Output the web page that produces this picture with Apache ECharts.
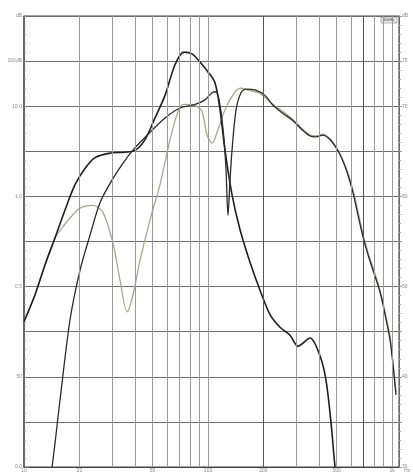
<!DOCTYPE html>
<html><head><meta charset="utf-8">
<script src="https://cdn.jsdelivr.net/npm/echarts@6/dist/echarts.min.js"></script>
<style>html,body{margin:0;padding:0;background:#fff}#c{width:413px;height:473px}</style>
</head><body><div id="c"></div>
<script>
// Curve A (dark, woofer-like)
const aFreq = [10,11.48,13.0,14.74,16.71,18.93,21.45,24.32,29.34,35.4,40.12,45.46,51.52,58.39,66.17,74.06,81.85,90.46,100,109.1,116.2,123.7,135.0,149.3,169.1,191.7,217.3,246.2,279.1,308.4,358.4,406.2,437.8,466.1,489.9,502];
const aDb   = [56.1,59.1,62.4,65.4,68.5,71.3,73.1,74.3,74.8,74.9,75.1,76.3,78.7,81.2,84.6,86.0,85.8,84.9,83.8,82.6,79.6,75.1,70.2,66.3,62.7,59.6,56.9,55.5,54.6,53.4,54.3,52.3,49.6,44.9,40.0,38.6];
// Curve B (dark, with notch)
const bFreq = [13.85,14.2,15.69,17.78,20.15,22.84,25.88,30.08,34.52,40.12,48.4,58.39,70.43,84.99,96.32,105.1,110.5,116.2,122.2,125.3,128.4,131.7,135.0,142.0,151.1,160.9,180.1,204.1,225.6,255.6,289.7,324.3,358.4,386.4,421.7,460.3,496.1,528.2,569.3,613.8,653.5,695.8,740.7,788.5,860.6,916.2,975.2,1012.5,1051];
const bDb   = [39.4,40.0,47.4,56.3,61.8,65.7,69.3,71.8,73.7,75.4,77.1,78.7,79.8,80.2,80.7,81.5,81.6,80.1,76.3,72.9,67.9,71.8,75.1,79.6,81.5,81.9,81.8,81.2,80.1,79.2,78.4,77.4,76.7,76.6,76.8,76.3,75.4,74.4,72.7,70.4,67.9,65.5,63.5,61.8,59.4,56.9,54.1,51.3,48.0];
// Curve C (grey)
const cFreq = [10,11.48,13.0,14.74,16.09,17.78,20.15,23.71,26.88,30.46,33.25,36.3,39.13,42.7,48.4,54.84,62.15,68.7,73.13,84.99,92.78,98.76,105.1,113.3,123.7,135.0,149.3,164.9,191.7,225.6,255.6,289.7,324.3,358.4,386.4,421.7,460.3,496.1,528.2,569.3,613.8,653.5,695.8,740.7,788.5,860.6,916.2,975.2,1012.5,1051];
const cDb   = [56.1,59.1,62.4,65.4,66.5,67.6,68.7,69.0,68.2,64.8,60.7,57.2,59.1,62.9,67.4,71.3,76.3,79.4,80.2,80.1,79.4,76.8,75.9,77.4,79.6,81.1,82.0,81.8,81.4,80.2,79.4,78.5,77.5,76.8,76.7,76.9,76.4,75.5,74.5,72.9,70.7,68.3,65.8,63.8,62.1,59.6,57.2,54.5,51.6,48.3];

// Grid / tick definitions
const minorFreqs = [20,30,40,50,60,70,80,90,100,200,300,400,500,600,700,800,900,1000];
const darkFreqs = [200,700];
const xLabelFreqs = [10,20,50,100,200,500,1000];
const xLabelTexts = ['10','20','50','100','200','500','1k'];
const yLeftValues = [40,50,60,70,80,85,90];
const yLeftTexts  = ['0.0','50','0.5','1.0','10.0','100dB','dB'];
const yRightValues = [40,50,60,70,80,85,90];
const yRightTexts  = ['30','40','50','60','70','75','dB'];

const zip = (f, d) => f.map((v, i) => [v, d[i]]);
const mapLabel = (vals, texts) => v => { const i = vals.indexOf(v); return i >= 0 ? texts[i] : ''; };

const chart = echarts.init(document.getElementById('c'));
chart.setOption({
  animation: false,
  backgroundColor: '#fff',
  grid: { left: 24, right: 14, top: 16, bottom: 6, show: true, borderColor: '#444', borderWidth: 1 },
  xAxis: { type: 'log', logBase: 10, min: 10, max: 1091,
    axisLine: { show: true, lineStyle: { color: '#444' } }, axisTick: { show: false },
    axisLabel: { show: false }, splitLine: { show: false } },
  yAxis: [
    { type: 'value', min: 40, max: 90, interval: 5, position: 'left',
      axisLine: { show: true, lineStyle: { color: '#555', width: 1.5 } },
      axisTick: { show: true, inside: true, length: 4, lineStyle: { color: '#777' } },
      minorTick: { show: true, splitNumber: 5, length: 2, lineStyle: { color: '#999' } },
      axisLabel: { fontSize: 5, color: '#888', margin: 2, formatter: mapLabel(yLeftValues, yLeftTexts) },
      splitLine: { show: true, lineStyle: { color: '#6f6f6f', width: 1 } } },
    { type: 'value', min: 40, max: 90, interval: 5, position: 'right',
      axisLine: { show: true, lineStyle: { color: '#666' } },
      axisTick: { show: true, inside: false, length: 3, lineStyle: { color: '#999' } },
      minorTick: { show: true, splitNumber: 5, length: 2, lineStyle: { color: '#aaa' } },
      axisLabel: { fontSize: 5, color: '#888', margin: 3, formatter: mapLabel(yRightValues, yRightTexts) },
      splitLine: { show: false } }
  ],
  graphic: [
    { type: 'rect', shape: { x: 381, y: 17, width: 16, height: 6 }, style: { fill: '#e8e8e8', stroke: '#777', lineWidth: 0.5 } },
    { type: 'text', x: 383, y: 18, style: { text: '10kHz', fontSize: 4, fill: '#444' } },
    { type: 'text', x: 404, y: 468, style: { text: 'Hz', fontSize: 5, fill: '#888' } }
  ],
  series: [
    { type: 'line', data: [], silent: true,
      markLine: { silent: true, symbol: ['none','none'], label: { show: false },
        data: minorFreqs.map(f => ({ xAxis: f, lineStyle: { color: darkFreqs.includes(f) ? '#555' : '#9a9a9a', width: 1, type: 'solid' } })) } },
    { type: 'line', data: [], silent: true,
      markLine: { silent: true, symbol: ['none','none'], lineStyle: { color: 'rgba(0,0,0,0)', width: 0 },
        label: { show: true, position: 'start', formatter: '{b}', fontSize: 5, color: '#888', distance: 1 },
        data: xLabelFreqs.map((f, i) => ({ xAxis: f, name: xLabelTexts[i] })) } },
    { type: 'line', data: zip(cFreq, cDb), showSymbol: false, smooth: 0.3,
      lineStyle: { color: '#a8a78e', width: 1.3 } },
    { type: 'line', data: zip(aFreq, aDb), showSymbol: false, smooth: 0.3,
      lineStyle: { color: '#1e1e1e', width: 1.6 } },
    { type: 'line', data: zip(bFreq, bDb), showSymbol: false, smooth: 0.3,
      lineStyle: { color: '#2a2a2a', width: 1.3 } }
  ]
});
</script></body></html>
